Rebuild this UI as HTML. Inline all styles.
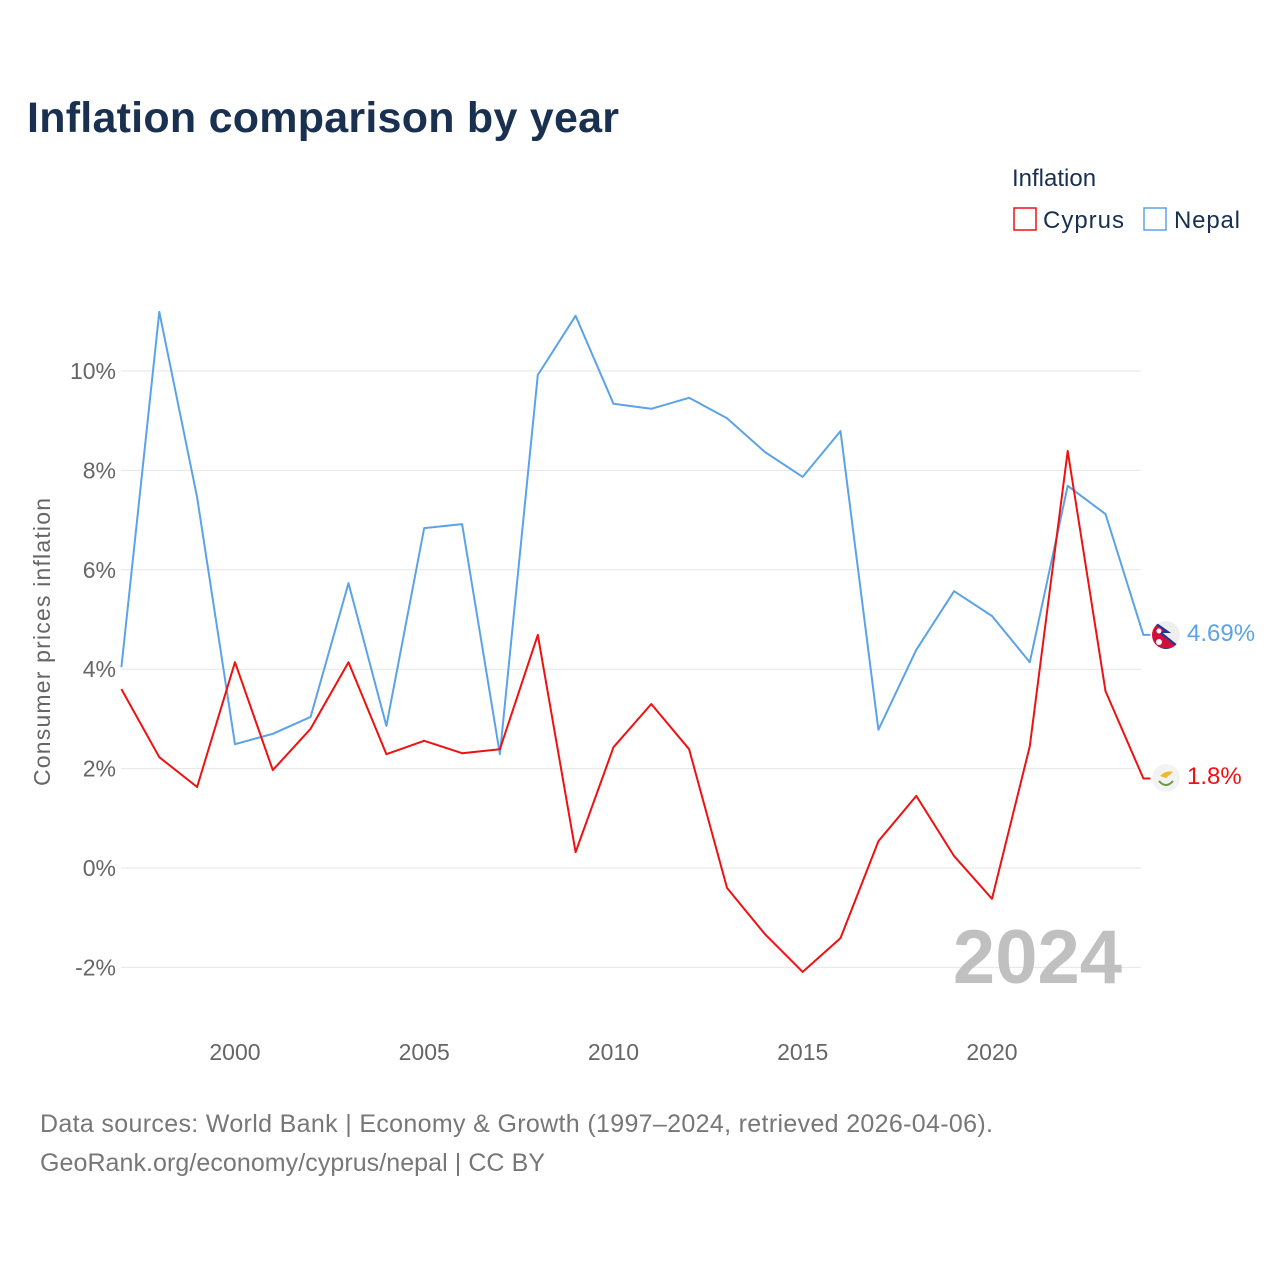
<!DOCTYPE html>
<html><head><meta charset="utf-8"><style>
body{margin:0;background:#fff;font-family:"Liberation Sans",sans-serif;}
svg text{font-family:"Liberation Sans",sans-serif;}
</style></head><body>
<svg width="1280" height="1280" xmlns="http://www.w3.org/2000/svg">
<defs><clipPath id="npc"><circle cx="1166" cy="635" r="14"/></clipPath></defs>
<text x="27" y="132" font-size="43" font-weight="bold" fill="#1a3050" textLength="592">Inflation comparison by year</text>
<text x="1012" y="186" font-size="24" fill="#1a3050">Inflation</text>
<g><rect x="1014" y="208" width="22" height="22" fill="none" stroke="#ee1111" stroke-width="1.5"/><text x="1043" y="228" font-size="24" fill="#1a3050" textLength="81">Cyprus</text></g>
<g><rect x="1144" y="208" width="22" height="22" fill="none" stroke="#5ba3e8" stroke-width="1.5"/><text x="1174" y="228" font-size="24" fill="#1a3050" textLength="66">Nepal</text></g>
<g id="grid"></g>
<g id="yticks"></g>
<g id="xticks"></g>
<text transform="translate(50,642) rotate(-90)" text-anchor="middle" font-size="23" fill="#666" textLength="288">Consumer prices inflation</text>
<text x="1122" y="983" text-anchor="end" font-size="76" font-weight="bold" fill="#c0c0c0">2024</text>
<g id="series"></g>
<g clip-path="url(#npc)"><circle cx="1166" cy="635" r="14" fill="#eee"/><path d="M1151,620 L1168,632 L1160,632 L1181,649 L1151,649 Z" fill="#d0103a" stroke="#1a3a9a" stroke-width="2"/><circle cx="1159" cy="631" r="2.5" fill="#fff"/><circle cx="1159" cy="642" r="3" fill="#fff"/></g>
<g><circle cx="1166" cy="778" r="14" fill="#f3f3f3"/><path d="M1160,776 Q1166,770 1173,772 L1166,778Z" fill="#f0b82a"/><path d="M1159,781 Q1166,789 1173,781" stroke="#6a9a3a" stroke-width="2" fill="none"/></g>
<text x="1187" y="641" font-size="24" fill="#5ba3e8">4.69%</text>
<text x="1187" y="784" font-size="24" fill="#ee1111">1.8%</text>
<text x="40" y="1132" font-size="25" fill="#777" textLength="953">Data sources: World Bank | Economy &amp; Growth (1997–2024, retrieved 2026-04-06).</text>
<text x="40" y="1171" font-size="25" fill="#777" textLength="505">GeoRank.org/economy/cyprus/nepal | CC BY</text>
</svg>
<script>
const years=[1997,1998,1999,2000,2001,2002,2003,2004,2005,2006,2007,2008,2009,2010,2011,2012,2013,2014,2015,2016,2017,2018,2019,2020,2021,2022,2023,2024];
const nepal=[4.04,11.19,7.46,2.49,2.70,3.04,5.73,2.86,6.84,6.92,2.29,9.92,11.11,9.34,9.24,9.46,9.05,8.37,7.87,8.79,2.78,4.39,5.57,5.07,4.14,7.69,7.12,4.69];
const cyprus=[3.60,2.23,1.63,4.14,1.97,2.80,4.14,2.29,2.56,2.31,2.39,4.69,0.32,2.43,3.30,2.39,-0.40,-1.33,-2.09,-1.41,0.54,1.45,0.24,-0.62,2.45,8.39,3.56,1.8];
const yTicks=[-2,0,2,4,6,8,10];
const xTicks=[2000,2005,2010,2015,2020];
const NS="http://www.w3.org/2000/svg";
const X=v=>121.4+(v-1997)*37.85;
const Y=v=>868-v*49.7;
function mk(t,a,p){const e=document.createElementNS(NS,t);for(const k in a)e.setAttribute(k,a[k]);p.appendChild(e);return e;}
const grid=document.getElementById('grid'),yt=document.getElementById('yticks'),xt=document.getElementById('xticks'),ser=document.getElementById('series');
yTicks.forEach(v=>{
 const l=mk('line',{x1:121,x2:1141,y1:Y(v),y2:Y(v),stroke:'#e6e6e6','stroke-width':1},grid);
 
 
 const t=mk('text',{x:116,y:Y(v)+8,'text-anchor':'end','font-size':23,fill:'#666'},yt);
 t.textContent=v+'%';
 
 
});
xTicks.forEach(v=>{
 const t=mk('text',{x:X(v),y:1060,'text-anchor':'middle','font-size':23,fill:'#666'},xt);
 t.textContent=v;
 
 
});
function line(vals,color,name){
 let d=vals.map((v,i)=>(i?'L':'M')+X(years[i]).toFixed(1)+','+Y(v).toFixed(1)).join(' ');
 d+=' L'+(X(years[years.length-1])+7).toFixed(1)+','+Y(vals[vals.length-1]).toFixed(1);
 const p=mk('path',{d:d,fill:'none',stroke:color,'stroke-width':2,'stroke-linejoin':'round'},ser);
 
 
}
line(nepal,'#5ba3e8','nepal-line');
line(cyprus,'#ee1111','cyprus-line');
</script>
</body></html>
